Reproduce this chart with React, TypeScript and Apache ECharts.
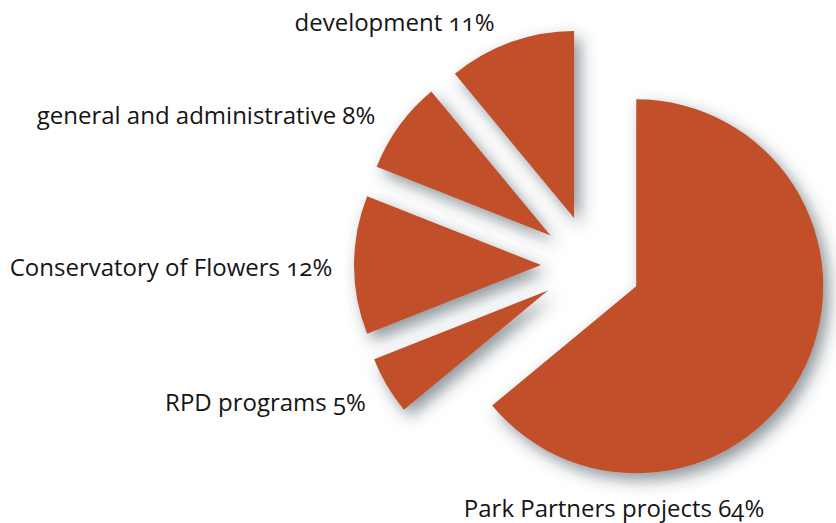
import React, { useEffect, useRef } from "react";
import * as echarts from "echarts";

const categories = [
  "Park Partners projects",
  "RPD programs",
  "Conservatory of Flowers",
  "general and administrative",
  "development",
];
const values = [64, 5, 12, 8, 11];

// label anchor points (center x, middle y) in pixels
const labelAnchors: [number, number][] = [
  [614, 507],
  [265.5, 401.5],
  [171, 266.5],
  [206, 114],
  [394.5, 21.5],
];

const SLICE_COLOR = "#c0502b";

export default function App() {
  const ref = useRef<HTMLDivElement>(null);
  useEffect(() => {
    if (!ref.current) return;
    const chart = echarts.init(ref.current, undefined, { renderer: "svg" });
    const shadow = {
      color: SLICE_COLOR,
      borderWidth: 0,
      shadowBlur: 16,
      shadowColor: "rgba(50,60,70,0.55)",
      shadowOffsetX: 6,
      shadowOffsetY: 7,
    };
    chart.setOption({
      animation: false,
      backgroundColor: "#ffffff",
      graphic: categories.map((name, i) => ({
        type: "text",
        x: labelAnchors[i][0],
        y: labelAnchors[i][1],
        silent: true,
        style: {
          text: `${name} ${values[i]}%`,
          fill: "#151515",
          fontFamily: "Open Sans",
          fontSize: 24,
          textAlign: "center",
          textVerticalAlign: "middle",
        },
      })),
      series: [
        {
          type: "pie",
          center: [591, 265],
          radius: 187,
          startAngle: 90,
          clockwise: true,
          selectedMode: "multiple",
          selectedOffset: 50,
          avoidLabelOverlap: false,
          emphasis: { disabled: true },
          itemStyle: shadow,
          select: { itemStyle: shadow },
          label: { show: false },
          labelLine: { show: false },
          data: categories.map((name, i) => ({
            name,
            value: values[i],
            selected: true,
          })),
        },
      ],
    });
    return () => chart.dispose();
  }, []);
  return (
    <>
      <style>{`body{margin:0} svg text{font-feature-settings:"onum" 1 !important;}`}</style>
      <div
        ref={ref}
        style={{ position: "fixed", left: 0, top: 0, width: 836, height: 523 }}
      />
    </>
  );
}
